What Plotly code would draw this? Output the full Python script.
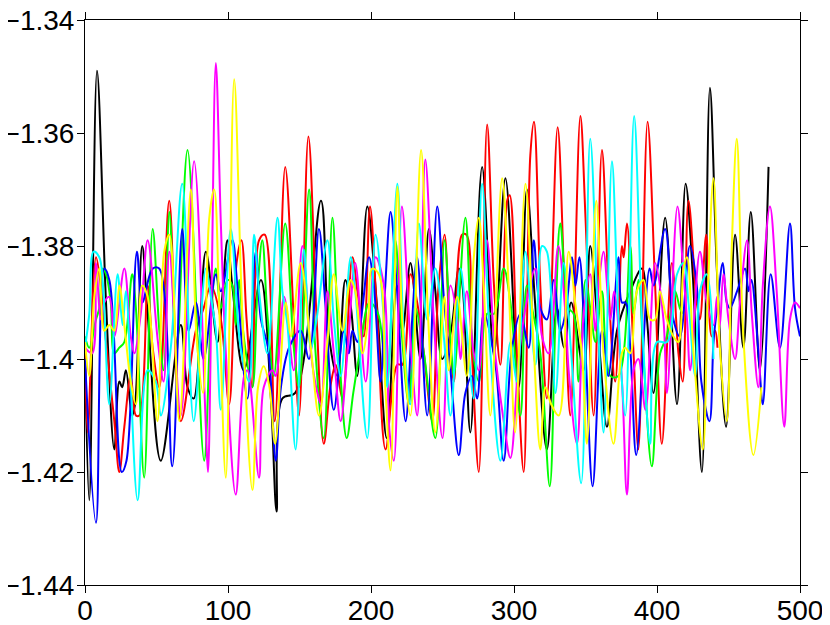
import plotly.graph_objects as go

# ---- data ----
black_x = [0, 3, 8.4, 14.7, 20.5, 24, 26, 28.6, 33, 35, 40, 43.8, 53, 67, 71.7, 76, 84.5, 92.6, 96, 99.6, 103, 111, 123, 130, 134, 138, 147, 165, 170.6, 176.4, 182, 186, 190.4, 197.4, 204, 211, 218, 222, 227.6, 234.6, 240.5, 245, 249.8, 256, 261.4, 264, 269.5, 277.7, 286, 294, 303.3, 309, 315, 323, 330, 335, 340, 348.7, 353.3, 360, 365, 372, 381.3, 389.5, 393, 397.6, 405.7, 414, 420, 425, 431.4, 437, 442, 448.3, 454.6, 460.4, 465.6, 472, 478]
black_y = [-1.400, -1.425, -1.349, -1.390, -1.416, -1.404, -1.405, -1.402, -1.410, -1.408, -1.380, -1.392, -1.418, -1.394, -1.405, -1.407, -1.381, -1.397, -1.389, -1.379, -1.387, -1.402, -1.386, -1.407, -1.427, -1.407, -1.406, -1.372, -1.396, -1.403, -1.386, -1.391, -1.403, -1.373, -1.390, -1.414, -1.387, -1.395, -1.383, -1.400, -1.377, -1.388, -1.400, -1.395, -1.384, -1.387, -1.413, -1.366, -1.399, -1.368, -1.405, -1.370, -1.391, -1.416, -1.391, -1.398, -1.390, -1.402, -1.380, -1.399, -1.412, -1.395, -1.388, -1.384, -1.393, -1.406, -1.375, -1.408, -1.369, -1.385, -1.420, -1.352, -1.385, -1.412, -1.378, -1.398, -1.374, -1.402, -1.366]

blue_x = [0, 7.7, 13.5, 17, 20, 25.7, 29, 36.3, 40, 47.3, 51.9, 61, 68, 72.5, 77.5, 83, 91.5, 95, 103, 106.5, 113.6, 119.4, 123, 128, 133.4, 137, 142.7, 150.8, 156.6, 163.6, 168, 174, 181, 184.5, 187, 190.5, 194, 198.6, 202, 206.7, 210, 213.7, 218, 224.2, 228.8, 232.3, 239.3, 246.3, 250.9, 255.6, 261.4, 266, 270.6, 274.2, 279, 287, 292.8, 298.6, 304.5, 310.3, 313.8, 318.4, 323, 327.8, 332.4, 336, 340.6, 343, 345.7, 350, 355, 361.5, 366, 373.1, 375.5, 378, 381.5, 385.5, 394.8, 397.6, 405.7, 411.5, 416, 423, 427.8, 431, 436.7, 439.5, 442, 446, 448.8, 451, 456, 461.6, 464, 466, 471, 474, 479.5, 486, 493, 496.5, 500]
blue_y = [-1.400, -1.429, -1.384, -1.386, -1.395, -1.420, -1.418, -1.381, -1.390, -1.384, -1.384, -1.419, -1.377, -1.395, -1.390, -1.400, -1.385, -1.388, -1.379, -1.387, -1.407, -1.381, -1.393, -1.398, -1.418, -1.405, -1.398, -1.395, -1.400, -1.377, -1.390, -1.409, -1.395, -1.399, -1.395, -1.397, -1.391, -1.382, -1.387, -1.404, -1.387, -1.374, -1.387, -1.411, -1.393, -1.382, -1.410, -1.373, -1.389, -1.402, -1.417, -1.406, -1.403, -1.407, -1.392, -1.401, -1.418, -1.398, -1.392, -1.398, -1.379, -1.391, -1.393, -1.386, -1.395, -1.392, -1.382, -1.387, -1.382, -1.399, -1.4225, -1.395, -1.403, -1.382, -1.390, -1.390, -1.399, -1.417, -1.384, -1.387, -1.377, -1.393, -1.396, -1.380, -1.387, -1.404, -1.411, -1.397, -1.391, -1.383, -1.390, -1.391, -1.388, -1.384, -1.388, -1.386, -1.399, -1.408, -1.385, -1.398, -1.376, -1.391, -1.396]

red_x = [0, 1.9, 7.7, 11, 13.5, 20.5, 24, 27.5, 32, 35.6, 38, 43.8, 47.3, 52, 58.9, 67, 77.5, 83, 88, 95, 100.8, 106, 109.4, 113, 117, 121.7, 125.7, 132.7, 140, 146, 149.7, 156.2, 162, 167, 171.5, 175.3, 180, 187, 190.5, 195, 199.3, 204, 210.2, 218.4, 222, 227.6, 232.3, 237, 242.8, 247, 251.4, 255, 258, 263.7, 266.7, 270.6, 275.4, 281.2, 286, 290.5, 295.2, 297, 302, 306.8, 311.4, 314, 318.4, 323, 330.5, 335, 339.4, 346.4, 350, 355.7, 361.5, 366, 370.8, 375.5, 376.7, 379, 383.6, 387, 393.4, 398.7, 403.4, 410.4, 415, 418, 422, 427.8, 430, 434.4, 438.3, 440.6, 442.3]
red_y = [-1.398, -1.413, -1.382, -1.387, -1.394, -1.411, -1.420, -1.412, -1.403, -1.410, -1.410, -1.387, -1.398, -1.405, -1.372, -1.411, -1.395, -1.391, -1.387, -1.393, -1.408, -1.383, -1.379, -1.393, -1.405, -1.379, -1.378, -1.411, -1.366, -1.393, -1.410, -1.3606, -1.393, -1.415, -1.405, -1.401, -1.407, -1.382, -1.388, -1.396, -1.373, -1.391, -1.416, -1.401, -1.401, -1.385, -1.390, -1.399, -1.411, -1.388, -1.378, -1.396, -1.404, -1.378, -1.378, -1.399, -1.420, -1.3585, -1.387, -1.401, -1.372, -1.371, -1.399, -1.420, -1.364, -1.358, -1.387, -1.407, -1.359, -1.385, -1.410, -1.357, -1.375, -1.410, -1.363, -1.387, -1.404, -1.380, -1.382, -1.376, -1.399, -1.416, -1.358, -1.387, -1.415, -1.383, -1.399, -1.404, -1.372, -1.390, -1.393, -1.378, -1.396, -1.395, -1.398]

green_x = [0, 3, 7.7, 10, 12.3, 14.7, 18, 20.5, 24, 27.5, 33, 35.6, 41.4, 47.3, 52, 55, 59, 64, 71.7, 83.3, 88, 91.5, 95, 99.6, 103, 105.4, 107.8, 111, 117, 120.6, 124, 127.5, 132, 140, 146, 149.7, 156.7, 161, 167, 173, 177.7, 183, 187.6, 192, 199, 205, 211, 217, 220.5, 226.5, 231, 237, 245, 251.4, 256, 258, 266, 271, 275.4, 281.2, 286, 292.8, 297.5, 304.5, 309, 313.4, 318.4, 325, 329, 332.4, 338.2, 341.7, 345.2, 350, 353.3, 357, 361.5, 367.4, 373, 381.3, 383.6, 387.1, 390.6, 396.4, 402.2, 406.8, 412.6, 416, 418]
green_y = [-1.396, -1.398, -1.393, -1.391, -1.384, -1.385, -1.390, -1.399, -1.398, -1.397, -1.385, -1.391, -1.421, -1.377, -1.395, -1.402, -1.374, -1.399, -1.363, -1.418, -1.393, -1.384, -1.391, -1.386, -1.387, -1.394, -1.386, -1.396, -1.405, -1.388, -1.379, -1.392, -1.403, -1.376, -1.398, -1.405, -1.370, -1.398, -1.414, -1.375, -1.399, -1.414, -1.406, -1.399, -1.390, -1.392, -1.404, -1.379, -1.392, -1.408, -1.391, -1.399, -1.414, -1.379, -1.398, -1.403, -1.375, -1.398, -1.404, -1.392, -1.392, -1.384, -1.390, -1.410, -1.387, -1.392, -1.399, -1.4225, -1.393, -1.376, -1.391, -1.392, -1.404, -1.386, -1.391, -1.397, -1.388, -1.403, -1.403, -1.380, -1.392, -1.386, -1.400, -1.419, -1.399, -1.396, -1.388, -1.391, -1.392]

magenta_x = [0, 5, 7.7, 11, 13.5, 17, 20.5, 27.5, 32, 34.5, 39, 43.8, 51, 55, 59, 67, 76.3, 84.5, 86, 88.5, 91.5, 95, 98.5, 105.4, 111.3, 113.6, 121.7, 125, 131, 133.4, 139.2, 146, 152, 158, 162.5, 165, 169.5, 174, 178.8, 183.5, 189, 196.3, 203.2, 209, 213, 216, 221.6, 227.6, 232.3, 235, 238, 243.9, 250, 255.6, 260.3, 262.6, 267, 271.9, 275.4, 281, 286.8, 292.8, 297.5, 303.3, 308, 315, 319.6, 324.3, 331, 336, 338.2, 344, 348.7, 353.3, 356.8, 359.2, 362.6, 367.4, 370, 375.5, 379, 383.6, 387, 392, 398.7, 404.5, 407, 414.3, 418.5, 421, 423.2, 430, 434.8, 439.5, 442, 444, 446.4, 450, 454.6, 458, 463, 466.3, 470.9, 474, 479, 483.7, 489, 493, 496.5, 500]
magenta_y = [-1.398, -1.399, -1.383, -1.393, -1.390, -1.389, -1.396, -1.384, -1.396, -1.399, -1.392, -1.379, -1.397, -1.404, -1.381, -1.410, -1.365, -1.412, -1.420, -1.388, -1.3476, -1.376, -1.399, -1.424, -1.403, -1.402, -1.421, -1.405, -1.402, -1.403, -1.389, -1.402, -1.380, -1.399, -1.406, -1.408, -1.388, -1.399, -1.411, -1.399, -1.383, -1.404, -1.382, -1.387, -1.413, -1.418, -1.373, -1.397, -1.410, -1.390, -1.3647, -1.393, -1.414, -1.387, -1.393, -1.400, -1.388, -1.399, -1.402, -1.379, -1.399, -1.411, -1.4175, -1.400, -1.391, -1.384, -1.396, -1.399, -1.380, -1.392, -1.402, -1.415, -1.392, -1.385, -1.395, -1.387, -1.381, -1.393, -1.388, -1.404, -1.424, -1.402, -1.400, -1.409, -1.383, -1.393, -1.406, -1.373, -1.385, -1.393, -1.402, -1.381, -1.390, -1.394, -1.389, -1.394, -1.385, -1.393, -1.400, -1.390, -1.379, -1.392, -1.405, -1.387, -1.373, -1.388, -1.412, -1.393, -1.390, -1.391]

cyan_x = [0, 3, 6, 10, 12.3, 17, 22.8, 26.3, 28.6, 36.8, 43.8, 49.5, 53, 60, 68, 76, 84.5, 88, 91.5, 95, 101.9, 108.8, 114.7, 118.2, 121.7, 127.5, 134.6, 138, 141.6, 147.3, 153, 157.9, 162.5, 169.5, 174, 178.8, 185.8, 189, 197.4, 203.2, 209, 211.4, 218.4, 223, 227.6, 233.5, 239.3, 245, 250.9, 255.6, 262.6, 267, 271.9, 277.7, 283.5, 290.5, 297.5, 302, 308, 315, 319.6, 323, 329, 334.7, 340, 347, 353.3, 359, 362.7, 368.5, 373.1, 377.8, 384, 389.5, 395.2, 400, 407, 414, 418.5, 422, 426.7, 430, 434.8, 439.5]
cyan_y = [-1.398, -1.392, -1.381, -1.382, -1.386, -1.408, -1.385, -1.394, -1.388, -1.425, -1.402, -1.404, -1.410, -1.398, -1.369, -1.411, -1.384, -1.389, -1.395, -1.409, -1.377, -1.398, -1.404, -1.378, -1.388, -1.399, -1.375, -1.388, -1.394, -1.416, -1.3806, -1.398, -1.392, -1.379, -1.393, -1.403, -1.382, -1.388, -1.414, -1.378, -1.393, -1.405, -1.369, -1.396, -1.408, -1.376, -1.393, -1.384, -1.396, -1.410, -1.384, -1.395, -1.407, -1.369, -1.399, -1.418, -1.397, -1.404, -1.381, -1.401, -1.380, -1.381, -1.406, -1.383, -1.399, -1.422, -1.361, -1.395, -1.413, -1.365, -1.393, -1.410, -1.357, -1.393, -1.415, -1.397, -1.397, -1.385, -1.383, -1.390, -1.403, -1.388, -1.385, -1.400]

yellow_x = [0, 3, 6.5, 10, 13.5, 17, 20.5, 24, 27.5, 32, 35.6, 40, 43.8, 50.7, 55.4, 59, 66, 74, 78, 82.6, 86.8, 90.3, 94, 98.5, 104.3, 110, 117.1, 121, 125, 129, 133, 140.4, 144, 150.8, 157.9, 163.6, 169.5, 174, 180, 185.8, 189, 194, 198, 200.8, 205.5, 210, 213.7, 218.4, 222, 227.6, 235, 240, 245, 251.4, 254.4, 260.3, 267, 271.9, 275.4, 278.8, 283.5, 291.7, 296.4, 300.8, 308, 313.8, 318.4, 322, 326, 331.3, 338.2, 342.8, 347.5, 351, 357.5, 362.6, 369.6, 375.4, 377.8, 381.3, 385.9, 390.6, 395.2, 398.7, 402, 406.8, 411.5, 415, 418.5, 420.9, 425.6, 432, 435.6, 439.5, 444, 448.8, 452.3, 455.8, 460.4, 467.4, 473]
yellow_y = [-1.397, -1.403, -1.389, -1.384, -1.395, -1.394, -1.395, -1.387, -1.394, -1.404, -1.408, -1.387, -1.389, -1.411, -1.381, -1.378, -1.411, -1.370, -1.396, -1.406, -1.3753, -1.370, -1.392, -1.421, -1.3505, -1.392, -1.4232, -1.405, -1.4013, -1.405, -1.415, -1.390, -1.396, -1.383, -1.398, -1.410, -1.397, -1.385, -1.395, -1.386, -1.388, -1.399, -1.393, -1.384, -1.385, -1.405, -1.4197, -1.3695, -1.394, -1.410, -1.363, -1.393, -1.413, -1.389, -1.402, -1.389, -1.403, -1.382, -1.375, -1.387, -1.410, -1.368, -1.388, -1.413, -1.369, -1.398, -1.416, -1.405, -1.408, -1.410, -1.381, -1.390, -1.399, -1.415, -1.372, -1.399, -1.415, -1.399, -1.398, -1.399, -1.388, -1.386, -1.393, -1.393, -1.388, -1.393, -1.396, -1.397, -1.384, -1.382, -1.399, -1.416, -1.388, -1.368, -1.398, -1.411, -1.380, -1.361, -1.396, -1.417, -1.405]

x_tick_vals = [0, 100, 200, 300, 400, 500]
x_tick_text = ["0", "100", "200", "300", "400", "500"]
y_tick_vals = [-1.44, -1.42, -1.40, -1.38, -1.36, -1.34]
y_tick_text = ["\u22121.44", "\u22121.42", "\u22121.4", "\u22121.38", "\u22121.36", "\u22121.34"]

series = [
    ("black", black_x, black_y, "#000000"),
    ("red", red_x, red_y, "#ff0000"),
    ("green", green_x, green_y, "#00ff00"),
    ("blue", blue_x, blue_y, "#0000ff"),
    ("magenta", magenta_x, magenta_y, "#ff00ff"),
    ("cyan", cyan_x, cyan_y, "#00ffff"),
    ("yellow", yellow_x, yellow_y, "#ffff00"),
]

fig = go.Figure()
for name, xs, ys, col in series:
    fig.add_trace(go.Scatter(x=xs, y=ys, mode="lines", name=name,
                             line=dict(color=col, width=2, shape="spline", smoothing=1.0),
                             showlegend=False, hoverinfo="skip"))

axis_common = dict(showline=True, linecolor="black", linewidth=1, mirror="ticks",
                   ticks="outside", ticklen=7, tickcolor="black", tickwidth=1,
                   showgrid=False, zeroline=False, automargin=False,
                   ticklabeloverflow="allow",
                   tickfont=dict(family="Liberation Sans, Arial, sans-serif", size=28, color="black"))

# the page body adds an 8px offset, so the figure is sized to compensate
fig.update_layout(
    width=822, height=617,
    margin=dict(l=77, r=30, t=12, b=40, autoexpand=False),
    plot_bgcolor="white", paper_bgcolor="white",
    xaxis=dict(range=[0, 500], tickvals=x_tick_vals, ticktext=x_tick_text,
               ticklabelstandoff=-7, **axis_common),
    yaxis=dict(range=[-1.44, -1.34], tickvals=y_tick_vals, ticktext=y_tick_text,
               ticklabelstandoff=-3, **axis_common),
)

fig.write_html("out.html")
